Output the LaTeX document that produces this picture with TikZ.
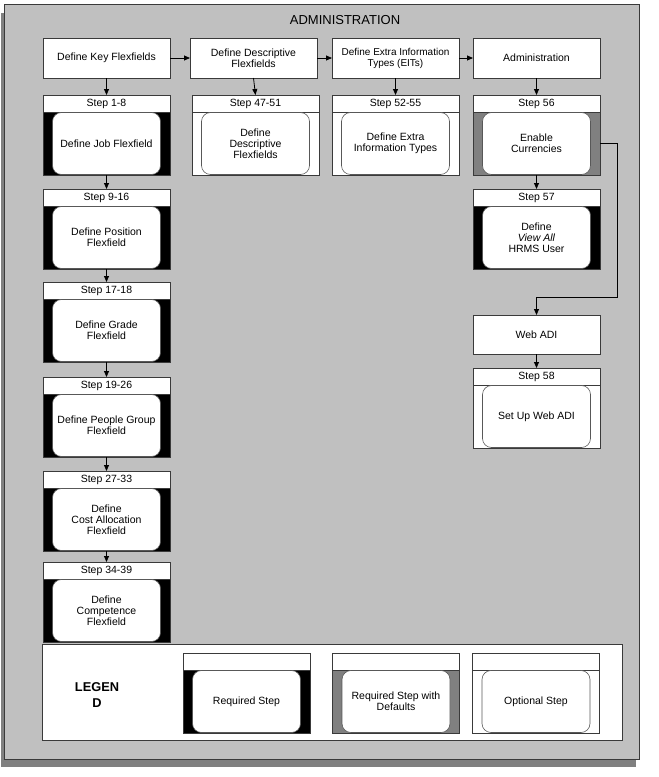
\documentclass[tikz,border=0pt]{standalone}
\usepackage{fontspec}
\setmainfont{Liberation Sans}
\usetikzlibrary{arrows.meta,positioning}
\definecolor{panel}{HTML}{C0C0C0}
\definecolor{shadowgray}{HTML}{808080}
\definecolor{edge}{HTML}{3A3A3A}
\definecolor{dflt}{HTML}{808080}

\begin{document}
\begin{tikzpicture}[x=1pt,y=-1pt,
  font=\fontsize{10.5}{11}\selectfont,
  head/.style={draw=edge,fill=white,line width=0.8pt,minimum width=127pt,
               minimum height=40pt,align=center,inner sep=1pt,outer sep=0pt},
  stephead/.style={draw=edge,fill=white,line width=0.8pt,minimum width=127pt,
               minimum height=17pt,inner sep=0pt,outer sep=0pt},
  body/.style={draw=edge,line width=0.8pt,minimum width=127pt,minimum height=63pt,
               inner sep=0pt,outer sep=0pt},
  req/.style={body,fill=black},
  dft/.style={body,fill=dflt},
  opt/.style={body,fill=white},
  task/.style={draw=edge!85,fill=white,line width=0.6pt,rounded corners=9pt,
               minimum width=108pt,minimum height=62pt,align=center,inner sep=1pt},
  flow/.style={-{Triangle[length=6pt,width=5pt]},line width=0.8pt,color=black}]
  \useasboundingbox (0,0) rectangle (659,777);
  % panel with its shadow
  \fill[shadowgray] (1,13) rectangle (636,767);
  \draw[edge,fill=panel,line width=1pt] (4,4) rectangle (639,759);
  \node[font=\fontsize{13}{15}\selectfont] (title) at (345,20) {ADMINISTRATION};
  % top row
  \node[head] (kf) at (106.5,58) {Define Key Flexfields};
  \node[head] (df) at (253.5,58) {Define Descriptive\\Flexfields};
  \node[head,font=\fontsize{10}{11}\selectfont] (ei) at (395.5,58) {Define Extra Information\\Types (EITs)};
  \node[head] (ad) at (536.5,58) {Administration};
  \draw[flow] (kf) -- (df); \draw[flow] (df) -- (ei); \draw[flow] (ei) -- (ad);
  % key flexfields column
  \foreach \i/\yy/\lab/\txt in {1/95/Step 1-8/{Define Job Flexfield},
      2/189/Step 9-16/{Define Position\\Flexfield},
      3/282/Step 17-18/{Define Grade\\Flexfield},
      4/377/Step 19-26/{Define People Group\\Flexfield},
      5/471/Step 27-33/{Define\\Cost Allocation\\Flexfield},
      6/562/Step 34-39/{Define\\Competence\\Flexfield}}{
    \node[stephead] (h\i) at (106.5,\yy+8.5) {\lab};
    \node[req,below=0pt of h\i] (b\i) {};
    \node[task] (t\i) at (b\i) {\txt};
  }
  \draw[flow] (kf.south) -- (h1.north);
  \foreach \a/\b in {1/2,2/3,3/4,4/5,5/6} \draw[flow] (b\a.south) -- (h\b.north);
  % descriptive flexfields
  \node[stephead] (dfh) at (255.5,103.5) {Step 47-51};
  \node[opt,below=0pt of dfh] (dfb) {};
  \node[task] (dft) at (dfb) {Define\\Descriptive\\Flexfields};
  \draw[flow] (df.south) -- (dfh.north);
  % extra information types
  \node[stephead] (eih) at (395.5,103.5) {Step 52-55};
  \node[opt,below=0pt of eih] (eib) {};
  \node[task] (eit) at (eib) {Define Extra\\Information Types};
  \draw[flow] (ei.south) -- (eih.north);
  % administration
  \node[stephead] (cuh) at (536.5,103.5) {Step 56};
  \node[dft,below=0pt of cuh] (cub) {};
  \node[task] (cut) at (cub) {Enable\\Currencies};
  \node[stephead] (vah) at (536.5,197.5) {Step 57};
  \node[req,below=0pt of vah] (vab) {};
  \node[task] (vat) at (vab) {Define\\\textit{View All}\\HRMS User};
  \draw[flow] (ad.south) -- (cuh.north);
  \draw[flow] (cub.south) -- (vah.north);
  % web adi
  \node[head,minimum height=39pt] (web) at (536.5,334.5) {Web ADI};
  \node[stephead] (wah) at (536.5,376.5) {Step 58};
  \node[opt,below=0pt of wah] (wab) {};
  \node[task] (wat) at (wab) {Set Up Web ADI};
  \coordinate (turn) at (617,297);
  \draw[flow] (cub.east) -| (turn) -| (web.north);
  \draw[flow] (web.south) -- (wah.north);
  % legend
  \node[draw=edge,fill=white,line width=0.8pt,minimum width=580pt,minimum height=96pt] (leg) at (332,692) {};
  \node[font=\fontsize{12.8}{16}\selectfont\bfseries,align=center] (legt) at (97,695) {LEGEN\\D};
  \node[stephead] (l1h) at (246.5,661.5) {};
  \node[req,below=0pt of l1h] (l1b) {};
  \node[task] (l1t) at (l1b) {Required Step};
  \node[stephead] (l2h) at (396,661.5) {};
  \node[dft,below=0pt of l2h] (l2b) {};
  \node[task] (l2t) at (l2b) {Required Step with\\Defaults};
  \node[stephead] (l3h) at (536,661.5) {};
  \node[opt,below=0pt of l3h] (l3b) {};
  \node[task] (l3t) at (l3b) {Optional Step};
\end{tikzpicture}
\end{document}
